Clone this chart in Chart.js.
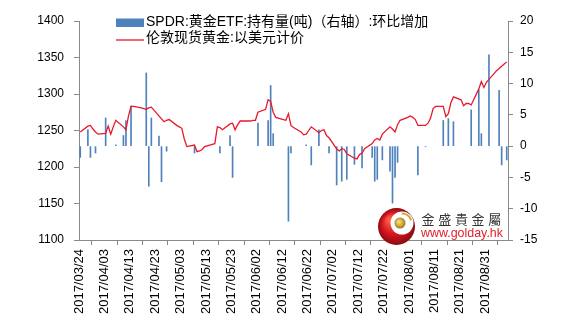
<!DOCTYPE html>
<html>
<head>
<meta charset="utf-8">
<script src="https://cdn.jsdelivr.net/npm/chart.js@4.4.1/dist/chart.umd.min.js"></script>
<style>
  html, body { margin: 0; padding: 0; background: #fff; }
  #wrap { width: 569px; height: 329px; }
</style>
</head>
<body>
<div id="wrap"><canvas id="chart" width="569" height="329"></canvas></div>
<script>
// trading days, gold price (USD) and SPDR holdings change (tonnes, null = no change)
const tradeDates = [
  "2017/03/24","2017/03/27","2017/03/28","2017/03/29","2017/03/30","2017/03/31",
  "2017/04/03","2017/04/04","2017/04/05","2017/04/06","2017/04/07",
  "2017/04/10","2017/04/11","2017/04/12","2017/04/13","2017/04/14",
  "2017/04/17","2017/04/18","2017/04/19","2017/04/20","2017/04/21",
  "2017/04/24","2017/04/25","2017/04/26","2017/04/27","2017/04/28",
  "2017/05/01","2017/05/02","2017/05/03","2017/05/04","2017/05/05",
  "2017/05/08","2017/05/09","2017/05/10","2017/05/11","2017/05/12",
  "2017/05/15","2017/05/16","2017/05/17","2017/05/18","2017/05/19",
  "2017/05/22","2017/05/23","2017/05/24","2017/05/25","2017/05/26",
  "2017/05/29","2017/05/30","2017/05/31","2017/06/01","2017/06/02",
  "2017/06/05","2017/06/06","2017/06/07","2017/06/08","2017/06/09",
  "2017/06/12","2017/06/13","2017/06/14","2017/06/15","2017/06/16",
  "2017/06/19","2017/06/20","2017/06/21","2017/06/22","2017/06/23",
  "2017/06/26","2017/06/27","2017/06/28","2017/06/29","2017/06/30",
  "2017/07/03","2017/07/04","2017/07/05","2017/07/06","2017/07/07",
  "2017/07/10","2017/07/11","2017/07/12","2017/07/13","2017/07/14",
  "2017/07/17","2017/07/18","2017/07/19","2017/07/20","2017/07/21",
  "2017/07/24","2017/07/25","2017/07/26","2017/07/27","2017/07/28",
  "2017/07/31","2017/08/01","2017/08/02","2017/08/03","2017/08/04",
  "2017/08/07","2017/08/08","2017/08/09","2017/08/10","2017/08/11",
  "2017/08/14","2017/08/15","2017/08/16","2017/08/17","2017/08/18",
  "2017/08/21","2017/08/22","2017/08/23","2017/08/24","2017/08/25",
  "2017/08/28","2017/08/29","2017/08/30","2017/08/31","2017/09/01",
  "2017/09/04","2017/09/05","2017/09/06","2017/09/07","2017/09/08"
];

const goldPrice = [
  1248, 1256, 1257, 1252, 1248, 1245,
  1246, 1256, 1245, 1255, 1264,
  1255, 1251, 1270, 1283, 1283,
  1281, 1280, 1279, 1281, 1282,
  1270, 1266, 1262, 1264, 1265,
  1257, 1255, 1253, 1238, 1228,
  1230, 1221, 1222, 1224, 1228,
  1231, 1232, 1255, 1254, 1251,
  1259, 1260, 1251, 1258, 1263,
  1263, 1263, 1264, 1264, 1275,
  1279, 1292, 1290, 1275, 1268,
  1265, 1264, 1273, 1257, 1254,
  1248, 1244, 1245, 1250, 1255,
  1247, 1250, 1251, 1243, 1240,
  1225, 1222, 1225, 1224, 1218,
  1212, 1211, 1217, 1219, 1225,
  1232, 1237, 1239, 1237, 1245,
  1255, 1252, 1248, 1258, 1264,
  1268, 1270, 1268, 1265, 1257,
  1257, 1260, 1267, 1280, 1283,
  1283, 1269, 1273, 1288, 1296,
  1292, 1284, 1287, 1287, 1285,
  1307, 1317, 1309, 1316, 1320,
  1332, 1335, 1338, 1341, 1344
];

const spdrChange = [
  -1.8, 2.6, -1.8, null, -1.1, null,
  4.5, null, null, null, 0.2,
  1.7, 4.1, null, 6.4, null,
  null, null, 11.7, -6.4, 4.5,
  1.6, -5.7, null, -0.8, null,
  null, null, null, null, null,
  -1.1, null, null, null, null,
  null, null, null, -1.1, null,
  1.7, -5.0, null, null, null,
  null, null, null, null, 3.7,
  null, 4.1, 9.7, 2.0, null,
  null, null, -12.0, -1.1, null,
  null, null, 0.2, null, -3.0,
  2.6, null, null, null, -1.1,
  -6.2, null, -5.6, null, -5.3,
  -2.9, null, null, -3.5, null,
  -1.8, -5.6, -5.3, null, -2.2,
  -4.0, -9.1, -5.0, -2.6, null,
  null, null, null, null, -4.6,
  -0.1, null, null, null, null,
  4.1, null, 4.4, null, 3.9,
  null, null, null, null, 5.8,
  9.0, 2.0, null, null, 14.6,
  null, 8.9, -3.0, null, -2.2
];

const priceTicks = [1100, 1150, 1200, 1250, 1300, 1350, 1400];
const changeTicks = [-15, -10, -5, 0, 5, 10, 15, 20];

const seriesNames = ["SPDR:黄金ETF:持有量(吨)（右轴）:环比增加", "伦敦现货黄金:以美元计价"];

const DAY = 86400000;
const toUTC = (s) => { const [y, m, d] = s.split("/").map(Number); return Date.UTC(y, m - 1, d); };
const t0 = toUTC(tradeDates[0]);
const dayIndex = (s) => (toUTC(s) - t0) / DAY;
const totalDays = dayIndex(tradeDates[tradeDates.length - 1]) + 1;
const pad2 = (n) => String(n).padStart(2, "0");
const dayLabel = (v) => {
  const d = new Date(t0 + v * DAY);
  return d.getUTCFullYear() + "/" + pad2(d.getUTCMonth() + 1) + "/" + pad2(d.getUTCDate());
};

// each calendar day is one unit wide; marks sit in the middle of their day
const goldPoints = tradeDates.map((s, i) => ({ x: dayIndex(s) + 0.5, y: goldPrice[i] }));
const spdrPoints = tradeDates
  .map((s, i) => ({ x: dayIndex(s) + 0.5, y: spdrChange[i] }))
  .filter((p) => p.y !== null);

const axisGrey = "#898989";
Chart.defaults.font.family = '"Liberation Sans", Arial, "Noto Sans CJK SC", sans-serif';
Chart.defaults.color = "#000";

// legend drawn over the top of the plot, one row per series
const topLegend = {
  id: "topLegend",
  afterDraw(chart) {
    const ctx = chart.ctx;
    ctx.save();
    ctx.font = '14px "Liberation Sans", Arial, "Noto Sans CJK SC", sans-serif';
    ctx.textBaseline = "middle";
    chart.data.datasets.forEach((ds, i) => {
      const y = 22.5 + i * 16;
      if (ds.type === "bar") {
        ctx.fillStyle = ds.backgroundColor;
        ctx.fillRect(116, y - 4, 28, 8.5);
      } else {
        ctx.strokeStyle = ds.borderColor;
        ctx.lineWidth = 1.3;
        ctx.beginPath();
        ctx.moveTo(116, y + 1.5);
        ctx.lineTo(144, y + 1.5);
        ctx.stroke();
      }
      ctx.fillStyle = "#000";
      ctx.fillText(ds.label, 146, y);
    });
    ctx.restore();
  }
};

// site logo in the lower right corner
const siteLogo = {
  id: "siteLogo",
  afterDraw(chart) {
    const ctx = chart.ctx;
    const cx = 396.5, cy = 226.5, r = 18.5;
    ctx.save();
    let g = ctx.createRadialGradient(cx - 7, cy - 7, 2, cx, cy, r);
    g.addColorStop(0, "#ff5a44");
    g.addColorStop(0.55, "#d8161e");
    g.addColorStop(1, "#8a0b12");
    ctx.fillStyle = g;
    ctx.beginPath();
    ctx.arc(cx, cy, r, 0, Math.PI * 2);
    ctx.fill();

    ctx.fillStyle = "#fff";
    ctx.beginPath();
    ctx.arc(cx + 5.5, cy - 3.5, 11.5, 0, Math.PI * 2);
    ctx.fill();

    ctx.strokeStyle = "#c9a531";
    ctx.lineWidth = 2;
    ctx.beginPath();
    ctx.arc(cx + 5.5, cy - 3.5, 9.5, -1.6, -0.3);
    ctx.stroke();

    g = ctx.createRadialGradient(cx + 2, cy - 5, 0.5, cx + 3.5, cy - 3.5, 6);
    g.addColorStop(0, "#f3e08a");
    g.addColorStop(0.6, "#c9a531");
    g.addColorStop(1, "#8c6d12");
    ctx.fillStyle = g;
    ctx.beginPath();
    ctx.arc(cx + 3.5, cy - 3.5, 5.5, 0, Math.PI * 2);
    ctx.fill();

    ctx.fillStyle = "#333";
    ctx.font = '13px "Noto Sans CJK TC", "Noto Sans CJK SC", sans-serif';
    ctx.textBaseline = "middle";
    [..."金盛貴金屬"].forEach((ch, i) => ctx.fillText(ch, 421.5 + i * 16.7, 219.5));

    ctx.fillStyle = "#e3202c";
    ctx.font = '12.5px "Liberation Sans", Arial, sans-serif';
    ctx.textBaseline = "alphabetic";
    const url = "www.golday.hk";
    const w = ctx.measureText(url).width;
    ctx.save();
    ctx.translate(421, 236.5);
    ctx.scale(82 / w, 1);
    ctx.fillText(url, 0, 0);
    ctx.restore();
    ctx.restore();
  }
};

new Chart(document.getElementById("chart"), {
  data: {
    datasets: [
      {
        type: "bar",
        label: seriesNames[0],
        data: spdrPoints,
        yAxisID: "yR",
        backgroundColor: "#4f81bd",
        barThickness: 1,
        order: 1
      },
      {
        type: "line",
        label: seriesNames[1],
        data: goldPoints,
        yAxisID: "yL",
        borderColor: "#e8182c",
        borderWidth: 1.3,
        pointRadius: 0,
        tension: 0,
        order: 0
      }
    ]
  },
  options: {
    responsive: false,
    animation: false,
    layout: { padding: { top: 21, left: 0, right: 0, bottom: 0 } },
    plugins: { legend: { display: false }, tooltip: { enabled: false } },
    scales: {
      x: {
        type: "linear",
        min: 0,
        max: totalDays,
        offset: false,
        grid: { drawOnChartArea: false, tickLength: 5, color: axisGrey },
        border: { color: axisGrey },
        ticks: {
          stepSize: 10,
          includeBounds: false,
          autoSkip: false,
          maxRotation: 90,
          minRotation: 90,
          padding: 4,
          font: { size: 13 },
          callback: (v) => dayLabel(v)
        },
        afterFit: (s) => { s.height = 89; }
      },
      yL: {
        position: "left",
        min: priceTicks[0],
        max: priceTicks[priceTicks.length - 1],
        grid: { drawOnChartArea: false, tickLength: 5, color: axisGrey },
        border: { color: axisGrey },
        ticks: {
          stepSize: priceTicks[1] - priceTicks[0],
          padding: 10,
          font: { size: 12 },
          callback: (v) => String(v)
        },
        afterFit: (s) => { s.width = 79; }
      },
      yR: {
        position: "right",
        min: changeTicks[0],
        max: changeTicks[changeTicks.length - 1],
        grid: { drawOnChartArea: false, tickLength: 5, color: axisGrey },
        border: { color: axisGrey },
        ticks: {
          stepSize: changeTicks[1] - changeTicks[0],
          padding: 7,
          font: { size: 12 },
          callback: (v) => String(v)
        },
        afterFit: (s) => { s.width = 61; }
      }
    }
  },
  plugins: [topLegend, siteLogo]
});
</script>
</body>
</html>
